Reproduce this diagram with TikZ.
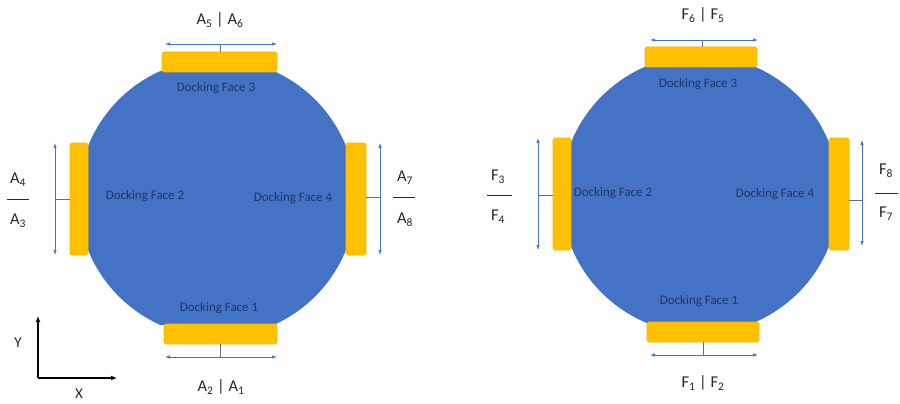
\documentclass[tikz,border=0pt]{standalone}
\usepackage{fontspec}
\setmainfont{Carlito}
\usetikzlibrary{arrows.meta}
\definecolor{bodyblue}{HTML}{4472C4}
\definecolor{faceyellow}{HTML}{FFC000}
\definecolor{txtnavy}{HTML}{1F3864}
\definecolor{arrblue}{HTML}{4472C4}
\newcommand{\sbs}[1]{\textsubscript{#1}}
\tikzset{
  x=1pt,y=-1pt,
  face/.style={draw=faceyellow!85!orange,fill=faceyellow,rounded corners=1.5pt,inner sep=0pt,line width=0.6pt},
  facetext/.style={text=txtnavy,font=\fontsize{13}{15}\selectfont,inner sep=0pt},
  meas/.style={draw=arrblue,line width=0.7pt,{Latex[length=5pt,width=3.5pt]}-{Latex[length=5pt,width=3.5pt]}},
  tick/.style={draw=gray!80!blue,line width=0.6pt},
  lab/.style={font=\fontsize{16.5}{18}\selectfont,inner sep=0pt,text=black!85},
  fracbar/.style={draw=black!85,line width=0.9pt},
  axis/.style={draw=black,line width=1.3pt,-{Latex[length=6pt,width=5pt]}}
}
\begin{document}
\begin{tikzpicture}
\useasboundingbox (0,0) rectangle (900,404);
% ---------------- left body ----------------
\begin{scope}
\clip (88,72) rectangle (346,324);
\fill[bodyblue] (217,198) circle (139);
\end{scope}
\node[face,minimum width=115,minimum height=20] (L3) at (219.5,62) {};
\node[face,minimum width=113,minimum height=20] (L1) at (220.5,334) {};
\node[face,minimum width=18,minimum height=112] (L2) at (79,199) {};
\node[face,minimum width=20,minimum height=112] (L4) at (356,199) {};
\node[facetext] (tL3) at (216,88) {Docking Face 3};
\node[facetext] (tL1) at (219,308) {Docking Face 1};
\node[facetext] (tL2) at (145,196) {Docking Face 2};
\node[facetext] (tL4) at (293,198) {Docking Face 4};
% measures
\coordinate (aL3a) at (165,44); \coordinate (aL3b) at (277,44); \coordinate (aL3m) at (220,44);
\draw[meas] (aL3a) -- (aL3b);
\draw[tick] (aL3m) -- (aL3m |- L3.north);
\coordinate (aL1a) at (165,357); \coordinate (aL1b) at (277,357); \coordinate (aL1m) at (220,357);
\draw[meas] (aL1a) -- (aL1b);
\draw[tick] (aL1m) -- (aL1m |- L1.south);
\coordinate (aL2a) at (55,143); \coordinate (aL2b) at (55,255); \coordinate (aL2m) at (55,199);
\draw[meas] (aL2a) -- (aL2b);
\draw[tick] (aL2m) -- (aL2m -| L2.west);
\coordinate (aL4a) at (380,143); \coordinate (aL4b) at (380,255); \coordinate (aL4m) at (380,197);
\draw[meas] (aL4a) -- (aL4b);
\draw[tick] (aL4m) -- (aL4m -| L4.east);
\node[lab] (nA56) at (220,20) {A\sbs{5} | A\sbs{6}};
\node[lab] (nA21) at (221,387) {A\sbs{2} | A\sbs{1}};
\node[lab] (nA4) at (18,180) {A\sbs{4}};
\node[lab] (nA3) at (18,221) {A\sbs{3}};
\coordinate (bl1) at (7,199); \coordinate (bl2) at (29,199);
\draw[fracbar] (bl1) -- (bl2);
\node[lab] (nA7) at (405,178) {A\sbs{7}};
\node[lab] (nA8) at (405,220) {A\sbs{8}};
\coordinate (br1) at (393,197); \coordinate (br2) at (415,197);
\draw[fracbar] (br1) -- (br2);
% axes
\coordinate (O) at (38,378); \coordinate (Yt) at (38,316); \coordinate (Xt) at (117,378);
\draw[axis] (O) -- (Yt);
\draw[axis] (O) -- (Xt);
\node[lab,font=\fontsize{15}{17}\selectfont] (Ylab) at (18,343) {Y};
\node[lab,font=\fontsize{15}{17}\selectfont] (Xlab) at (79,394) {X};
% ---------------- right body ----------------
\begin{scope}
\clip (571,67) rectangle (829,322);
\fill[bodyblue] (700,194.5) circle (139);
\end{scope}
\node[face,minimum width=112,minimum height=20] (R3) at (701,57) {};
\node[face,minimum width=112,minimum height=20] (R1) at (703,332) {};
\node[face,minimum width=18,minimum height=112] (R2) at (562,194) {};
\node[face,minimum width=20,minimum height=112] (R4) at (839,194) {};
\node[facetext] (tR3) at (698,84) {Docking Face 3};
\node[facetext] (tR1) at (699,301) {Docking Face 1};
\node[facetext] (tR2) at (613,193) {Docking Face 2};
\node[facetext] (tR4) at (775,194) {Docking Face 4};
\coordinate (aR3a) at (650,40); \coordinate (aR3b) at (758,40); \coordinate (aR3m) at (702,40);
\draw[meas] (aR3a) -- (aR3b);
\draw[tick] (aR3m) -- (aR3m |- R3.north);
\coordinate (aR1a) at (650,355); \coordinate (aR1b) at (758,355); \coordinate (aR1m) at (703,355);
\draw[meas] (aR1a) -- (aR1b);
\draw[tick] (aR1m) -- (aR1m |- R1.south);
\coordinate (aR2a) at (538,138); \coordinate (aR2b) at (538,250); \coordinate (aR2m) at (538,195);
\draw[meas] (aR2a) -- (aR2b);
\draw[tick] (aR2m) -- (aR2m -| R2.west);
\coordinate (aR4a) at (862,140); \coordinate (aR4b) at (862,246); \coordinate (aR4m) at (862,200);
\draw[meas] (aR4a) -- (aR4b);
\draw[tick] (aR4m) -- (aR4m -| R4.east);
\node[lab] (nF65) at (703,15) {F\sbs{6} | F\sbs{5}};
\node[lab] (nF12) at (703,383) {F\sbs{1} | F\sbs{2}};
\node[lab] (nF3) at (498,177) {F\sbs{3}};
\node[lab] (nF4) at (498,217) {F\sbs{4}};
\coordinate (bf1) at (487,195); \coordinate (bf2) at (512,195);
\draw[fracbar] (bf1) -- (bf2);
\node[lab] (nF8) at (886,171) {F\sbs{8}};
\node[lab] (nF7) at (886,214) {F\sbs{7}};
\coordinate (bg1) at (875,193); \coordinate (bg2) at (898,193);
\draw[fracbar] (bg1) -- (bg2);
\end{tikzpicture}
\end{document}
